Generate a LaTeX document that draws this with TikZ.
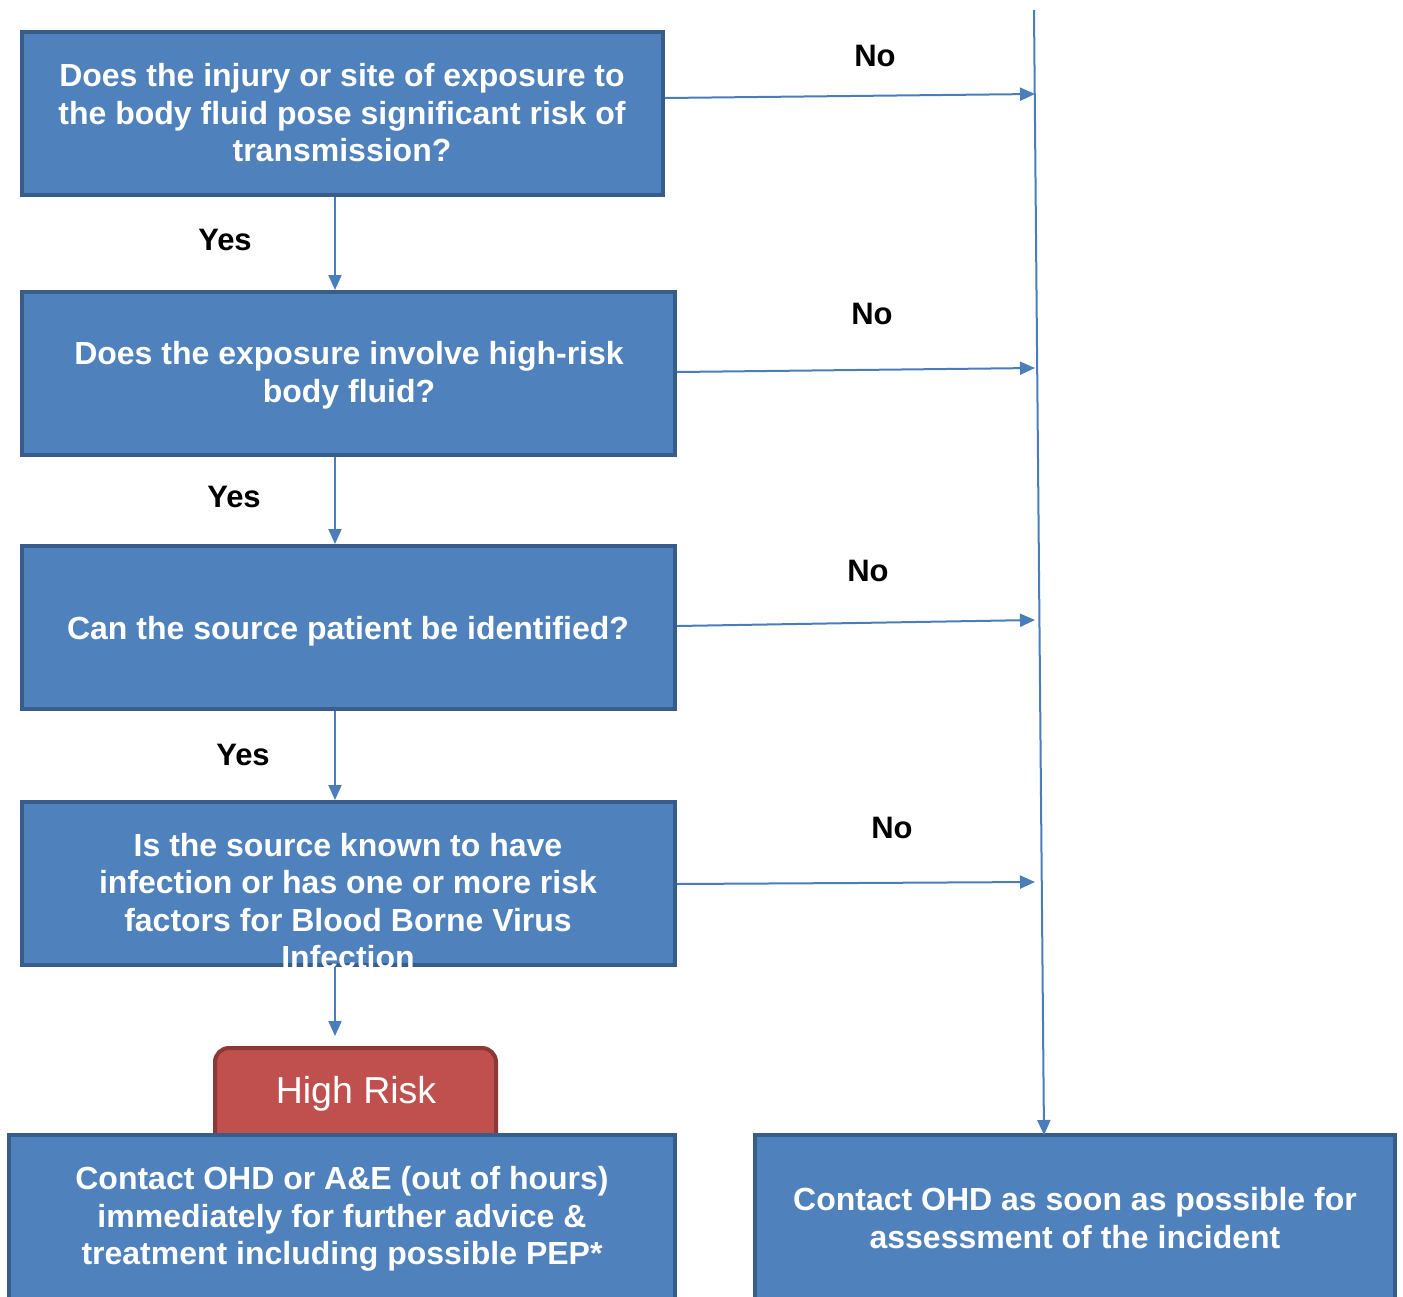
\documentclass[tikz,border=0pt]{standalone}
\usepackage{fontspec}
\setmainfont{Liberation Sans}
\usetikzlibrary{arrows.meta}
\definecolor{boxfill}{HTML}{4F81BD}
\definecolor{boxline}{HTML}{385D8A}
\definecolor{redfill}{HTML}{C0504D}
\definecolor{redline}{HTML}{8C3836}
\definecolor{conn}{HTML}{4A7EBB}
\tikzset{
  qbox/.style={draw=boxline, fill=boxfill, line width=4pt},
  qtext/.style={text=white, font=\fontsize{32}{37.5}\selectfont\bfseries, align=center, inner sep=0pt},
  lbl/.style={font=\fontsize{31}{36}\selectfont\bfseries, inner sep=0pt},
  conline/.style={draw=conn, line width=2pt},
  arr/.style={conline, -{Triangle[length=15pt,width=13pt]}},
}
\begin{document}
\begin{tikzpicture}[x=1pt,y=-1pt]
\useasboundingbox (0,0) rectangle (1403,1296);
% boxes
\path[qbox] (22,32) rectangle (663,195);
\path[qbox] (22,292) rectangle (675,455);
\path[qbox] (22,546) rectangle (675,709);
\path[qbox] (22,802) rectangle (675,965);
\path[draw=redline, fill=redfill, line width=4pt, rounded corners=14pt] (215,1048) rectangle (496,1150);
\path[qbox] (9,1135) rectangle (675,1310);
\path[qbox] (755,1135) rectangle (1395,1310);
% texts
\node[qtext] (t1) at (342,113) {Does the injury or site of exposure to\\the body fluid pose significant risk of\\transmission?};
\node[qtext] (t2) at (349,375) {Does the exposure involve high-risk\\body fluid?};
\node[qtext] (t3) at (348,631) {Can the source patient be identified?};
\node[qtext] (t4) at (348,901) {Is the source known to have\\infection or has one or more risk\\factors for Blood Borne Virus\\Infection};
\node[text=white, font=\fontsize{37.5}{42}\selectfont, inner sep=0pt] (hr) at (356,1094) {High Risk};
\node[qtext] (t5) at (342,1219) {Contact OHD or A\&E (out of hours)\\immediately for further advice \&\\treatment including possible PEP*};
\node[qtext] (t6) at (1075,1218) {Contact OHD as soon as possible for\\assessment of the incident};
% connector anchors
\coordinate (b1s) at (335,197);
\coordinate (b2n) at (335,290);
\coordinate (b2s) at (335,457);
\coordinate (b3n) at (335,544);
\coordinate (b3s) at (335,711);
\coordinate (b4n) at (335,800);
\coordinate (b4s) at (335,967);
\coordinate (hrtop) at (335,1036);
\coordinate (b1e) at (665,98);
\coordinate (b2e) at (677,372);
\coordinate (b3e) at (677,626);
\coordinate (b4e) at (677,884);
\coordinate (vtop) at (1034,10);
\coordinate (v1) at (1035,94);
\coordinate (v2) at (1035,368);
\coordinate (v3) at (1035,620);
\coordinate (v4) at (1035,882);
\coordinate (b6n) at (1044,1135);
% connectors
\draw[arr] (vtop) -- (b6n);
\draw[arr] (b1e) -- (v1);
\draw[arr] (b2e) -- (v2);
\draw[arr] (b3e) -- (v3);
\draw[arr] (b4e) -- (v4);
\draw[arr] (b1s) -- (b2n);
\draw[arr] (b2s) -- (b3n);
\draw[arr] (b3s) -- (b4n);
\draw[arr] (b4s) -- (hrtop);
% labels
\node[lbl] (no1) at (875,56) {No};
\node[lbl] (no2) at (872,314) {No};
\node[lbl] (no3) at (868,571) {No};
\node[lbl] (no4) at (892,828) {No};
\node[lbl] (y1) at (225,240) {Yes};
\node[lbl] (y2) at (234,497) {Yes};
\node[lbl] (y3) at (243,755) {Yes};
\end{tikzpicture}
\end{document}
